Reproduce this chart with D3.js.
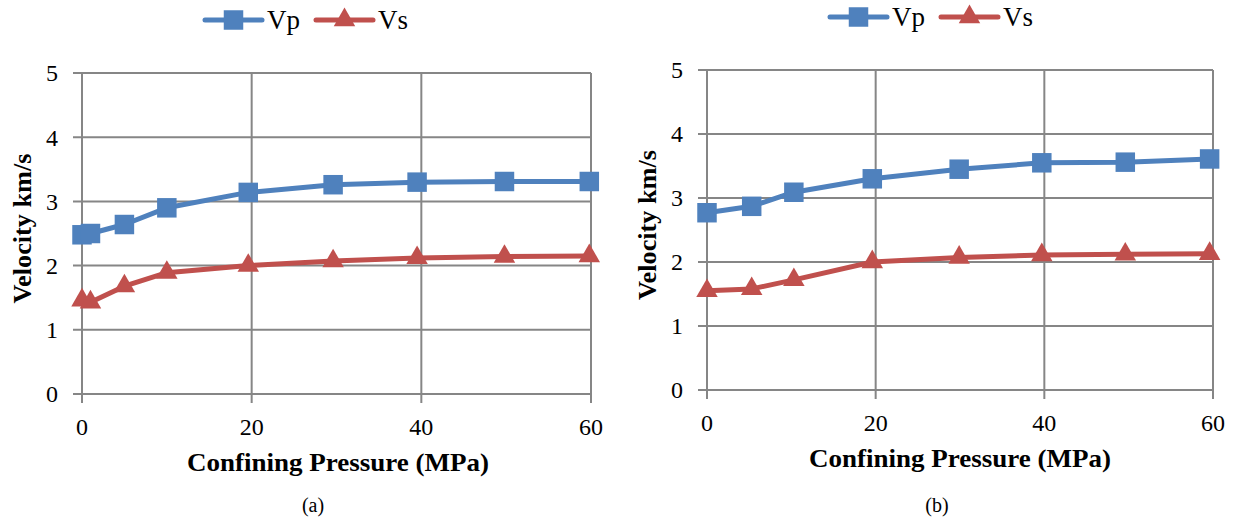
<!DOCTYPE html>
<html>
<head>
<meta charset="utf-8">
<script src="https://cdn.jsdelivr.net/npm/d3@7"></script>
<style>
  body { margin: 0; background: #fff; }
</style>
</head>
<body>
<div id="chart"></div>
<script>
// data
const pressureA = [0, 1, 5, 10, 19.6, 29.6, 39.5, 49.8, 59.8];
const vpA = [2.48, 2.50, 2.64, 2.90, 3.14, 3.26, 3.30, 3.31, 3.31];
const vsA = [1.46, 1.43, 1.68, 1.89, 2.00, 2.07, 2.12, 2.14, 2.15];

const pressureB = [0, 5.3, 10.3, 19.6, 29.9, 39.7, 49.6, 59.6];
const vpB = [2.77, 2.87, 3.09, 3.30, 3.45, 3.55, 3.56, 3.61];
const vsB = [1.55, 1.58, 1.72, 2.00, 2.07, 2.11, 2.12, 2.13];

const xTicks = [0, 20, 40, 60];
const yTicks = [0, 1, 2, 3, 4, 5];
const colors = {Vp: '#4F81BD', Vs: '#C0504D'};

const width = 1238;
const height = 523;
const serif = '"Liberation Serif"';

const svg = d3.select('div#chart').append('svg')
  .attr('width', width).attr('height', height);

const panels = [
  {id: 'a', left: 82, right: 591, top: 73, bottom: 394, x: pressureA, vp: vpA, vs: vsA,
   yLabelX: 31, xLabelX: 338, xLabelY: 471, capX: 313, legX: 205, legY: 20},
  {id: 'b', left: 707, right: 1213, top: 70, bottom: 390, x: pressureB, vp: vpB, vs: vsB,
   yLabelX: 656, xLabelX: 960, xLabelY: 467, capX: 937, legX: 830, legY: 17},
];

const gridColor = '#868686';

panels.forEach(p => {
  const g = svg.append('g').attr('class', 'panel-' + p.id);
  const x = d3.scaleLinear().domain([0, 60]).range([p.left, p.right]);
  const y = d3.scaleLinear().domain([0, 5]).range([p.bottom, p.top]);

  // grid
  g.append('g').selectAll('line').data(yTicks).join('line')
    .attr('x1', p.left - 9).attr('x2', p.right)
    .attr('y1', d => y(d)).attr('y2', d => y(d))
    .attr('stroke', gridColor).attr('stroke-width', 2);
  g.append('g').selectAll('line').data(xTicks).join('line')
    .attr('x1', d => x(d)).attr('x2', d => x(d))
    .attr('y1', p.top).attr('y2', p.bottom + 9)
    .attr('stroke', gridColor).attr('stroke-width', 2);

  // tick labels
  g.append('g').selectAll('text').data(yTicks).join('text')
    .attr('x', p.left - 24).attr('y', d => y(d)).attr('dy', '0.35em')
    .attr('text-anchor', 'end')
    .style('font-family', serif).style('font-size', '24px')
    .text(d => d);
  g.append('g').selectAll('text').data(xTicks).join('text')
    .attr('x', d => x(d)).attr('y', p.bottom + 41)
    .attr('text-anchor', 'middle')
    .style('font-family', serif).style('font-size', '24px')
    .text(d => d);

  // axis titles
  g.append('text')
    .attr('transform', `translate(${p.yLabelX},${(p.top + p.bottom) / 2 - 5}) rotate(-90)`)
    .attr('text-anchor', 'middle')
    .style('font-family', serif).style('font-size', '25px').style('font-weight', 'bold')
    .attr('textLength', 150).attr('lengthAdjust', 'spacingAndGlyphs')
    .text('Velocity km/s');
  g.append('text')
    .attr('x', p.xLabelX).attr('y', p.xLabelY)
    .attr('text-anchor', 'middle')
    .style('font-family', serif).style('font-size', '25px').style('font-weight', 'bold')
    .attr('textLength', 302).attr('lengthAdjust', 'spacingAndGlyphs')
    .text('Confining Pressure (MPa)');
  g.append('text')
    .attr('x', p.capX).attr('y', 512)
    .attr('text-anchor', 'middle')
    .style('font-family', serif).style('font-size', '20px')
    .text(`(${p.id})`);

  // series
  const series = [
    {name: 'Vp', values: p.vp, symbol: d3.symbolSquare, size: 380},
    {name: 'Vs', values: p.vs, symbol: d3.symbolTriangle, size: 200},
  ];
  const line = d3.line().x(d => x(d[0])).y(d => y(d[1]));
  series.forEach(s => {
    const pts = p.x.map((v, i) => [v, s.values[i]]);
    g.append('path').datum(pts)
      .attr('d', line).attr('fill', 'none')
      .attr('stroke', colors[s.name]).attr('stroke-width', 5)
      .attr('stroke-linejoin', 'round');
    g.append('g').selectAll('path').data(pts).join('path')
      .attr('transform', d => `translate(${x(d[0])},${y(d[1])})`)
      .attr('d', d3.symbol().type(s.symbol).size(s.size))
      .attr('fill', colors[s.name]);
  });

  // legend
  const leg = g.append('g').attr('transform', `translate(${p.legX},${p.legY})`);
  const legItems = [
    {name: 'Vp', symbol: d3.symbolSquare, size: 380, dx: 0},
    {name: 'Vs', symbol: d3.symbolTriangle, size: 200, dx: 111},
  ];
  legItems.forEach(it => {
    const li = leg.append('g').attr('transform', `translate(${it.dx},0)`);
    li.append('line').attr('x1', 0).attr('x2', 57).attr('y1', 0).attr('y2', 0)
      .attr('stroke', colors[it.name]).attr('stroke-width', 5).attr('stroke-linecap', 'round');
    li.append('path').attr('transform', 'translate(28.5,0)')
      .attr('d', d3.symbol().type(it.symbol).size(it.size))
      .attr('fill', colors[it.name]);
    li.append('text').attr('x', 62).attr('y', 0).attr('dy', '0.35em')
      .style('font-family', serif).style('font-size', '27px').text(it.name);
  });
});
</script>
</body>
</html>
